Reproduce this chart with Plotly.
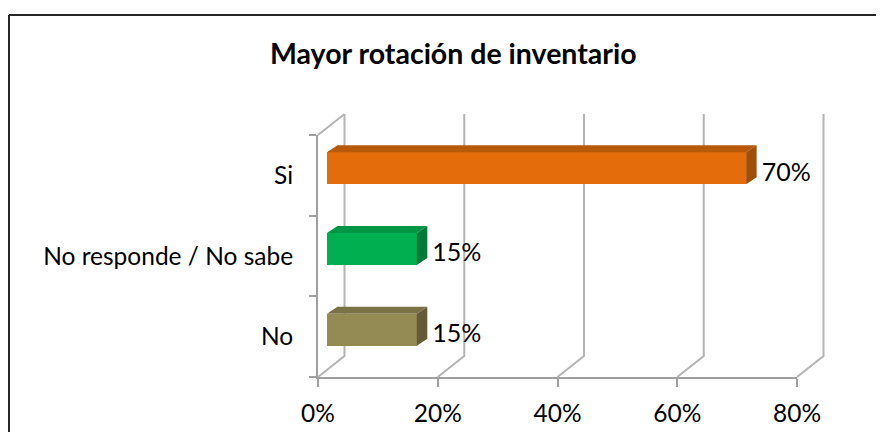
import plotly.graph_objects as go

# ---------------- data ----------------
categories = ["No", "No responde / No sabe", "Si"]
values = [15, 15, 70]
value_labels = ["15%", "15%", "70%"]
x_tick_values = [0, 20, 40, 60, 80]
x_tick_labels = ["0%", "20%", "40%", "60%", "80%"]
chart_title = "Mayor rotación de inventario"

# ---------------- styles ----------------
front_colors = ["#948A54", "#00B050", "#E46C0A"]
top_colors = ["#7A7145", "#009544", "#B8590A"]
side_colors = ["#645C36", "#007A38", "#A04E08"]
grid_color = "#B4B4B4"
axis_color = "#A0A0A0"
FONT = "Lato"

OFF = 8                     # page body margin
W, H = 884 - 2 * OFF, 440 - 2 * OFF
# main plot area (page pixels -> figure pixels)
PL, PR, PT, PB = 318 - OFF, 797 - OFF, 135 - OFF, 377 - OFF
XR = [0, 80]
YR = [-0.5, len(categories) - 0.5]
sx = (PR - PL) / (XR[1] - XR[0])
sy = (PB - PT) / (YR[1] - YR[0])


def ux(px):
    return px / sx


def uy(px):
    return px / sy


# wall depth and bar geometry (pixel offsets converted to axis units)
WDX, WDY = ux(26.5), uy(21)
BX = ux(9)            # bar start offset
BYOFF = uy(7)         # bar raised on the floor
BH = uy(32)           # bar thickness
BDX, BDY = ux(10.5), uy(7)  # bar depth
LBL_GAP = ux(5)

fig = go.Figure()

# ---- walls / gridlines (full-page subplot xy) ----
gx, gy = [], []
for t in x_tick_values:
    gx += [t, t + WDX, t + WDX, None]
    gy += [YR[0], YR[0] + WDY, YR[1] + WDY, None]
gx += [XR[0], XR[0] + WDX, None]
gy += [YR[1], YR[1] + WDY, None]
fig.add_trace(go.Scatter(x=gx, y=gy, mode="lines",
                         line=dict(color=grid_color, width=2),
                         hoverinfo="skip", xaxis="x", yaxis="y"))

# ---- bars (main subplot x2y2) ----
ypos = [i + BYOFF for i in range(len(categories))]
fig.add_trace(go.Bar(orientation="h", y=ypos, x=values, base=BX, width=BH,
                     marker=dict(color=front_colors, line=dict(width=0)),
                     xaxis="x2", yaxis="y2", hoverinfo="skip"))

for i, v in enumerate(values):
    yc = ypos[i]
    top, bot = yc + BH / 2, yc - BH / 2
    x0, x1 = BX, BX + v
    # top face
    fig.add_trace(go.Scatter(
        x=[x0, x1, x1 + BDX, x0 + BDX, x0],
        y=[top, top, top + BDY, top + BDY, top],
        fill="toself", fillcolor=top_colors[i], mode="lines",
        line=dict(width=0, color=top_colors[i]),
        hoverinfo="skip", xaxis="x2", yaxis="y2"))
    # side face
    fig.add_trace(go.Scatter(
        x=[x1, x1, x1 + BDX, x1 + BDX, x1],
        y=[bot, top, top + BDY, bot + BDY, bot],
        fill="toself", fillcolor=side_colors[i], mode="lines",
        line=dict(width=0, color=side_colors[i]),
        hoverinfo="skip", xaxis="x2", yaxis="y2"))

# data labels
fig.add_trace(go.Scatter(
    x=[v + BX + BDX + LBL_GAP for v in values],
    y=[i + uy(1) for i in range(len(categories))],
    text=value_labels, mode="text", textposition="middle right",
    textfont=dict(family=FONT, size=25, color="#000000"),
    cliponaxis=False, hoverinfo="skip", xaxis="x2", yaxis="y2"))

# ---------------- layout ----------------
fig.update_layout(
    width=W, height=H,
    margin=dict(l=0, r=0, t=0, b=0, pad=0, autoexpand=False),
    paper_bgcolor="white", plot_bgcolor="rgba(0,0,0,0)",
    showlegend=False,
    bargap=0,
    xaxis=dict(domain=[0, 1], automargin=False,
               range=[XR[0] - PL / sx, XR[0] + (W - PL) / sx],
               visible=False, fixedrange=True),
    yaxis=dict(domain=[0, 1], automargin=False,
               range=[YR[0] - (H - PB) / sy, YR[1] + PT / sy],
               visible=False, fixedrange=True),
    xaxis2=dict(domain=[PL / W, PR / W], anchor="y2", range=XR, automargin=False,
                tickmode="array", tickvals=x_tick_values, ticktext=x_tick_labels,
                ticks="outside", ticklen=8, tickwidth=2, tickcolor=axis_color,
                showline=True, linecolor=axis_color, linewidth=2,
                showgrid=False, zeroline=False, ticklabelstandoff=6,
                tickfont=dict(family=FONT, size=24.5, color="#000000")),
    yaxis2=dict(domain=[1 - PB / H, 1 - PT / H], anchor="x2", range=YR,
                automargin=False,
                tickmode="array", tickvals=list(range(len(categories))),
                ticktext=categories, ticks="",
                minor=dict(tickmode="array",
                           tickvals=[k - 0.5 for k in range(len(categories) + 1)],
                           ticks="outside", ticklen=7, tickwidth=2,
                           tickcolor=axis_color, showgrid=False),
                showline=True, linecolor=axis_color, linewidth=2,
                showgrid=False, zeroline=False, ticklabelstandoff=18,
                tickfont=dict(family=FONT, size=24.5, color="#000000")),
    annotations=[dict(text="<b>" + chart_title + "</b>", xref="paper", yref="paper",
                      x=(453 - OFF) / W, y=1 - (53 - OFF) / H,
                      xanchor="center", yanchor="middle", showarrow=False,
                      font=dict(family=FONT, size=28.5, color="#000000"))],
    shapes=[dict(type="line", xref="paper", yref="paper",
                 x0=(9 - OFF) / W, x1=(9 - OFF) / W, y0=0, y1=1 - (15 - OFF) / H,
                 line=dict(color="#262626", width=2)),
            dict(type="line", xref="paper", yref="paper",
                 x0=(9 - OFF) / W, x1=1, y0=1 - (15 - OFF) / H, y1=1 - (15 - OFF) / H,
                 line=dict(color="#262626", width=2))],
)

fig.write_html("out.html")
